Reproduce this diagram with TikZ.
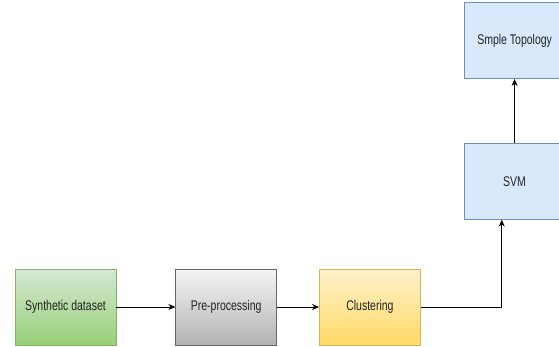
\documentclass[tikz,border=0pt]{standalone}
\usepackage{fontspec}
\setmainfont{Liberation Sans}[FakeStretch=0.75]
\usetikzlibrary{arrows.meta, positioning, calc}
\definecolor{greenline}{HTML}{82B366}
\definecolor{grayline}{HTML}{666666}
\definecolor{yellowline}{HTML}{D6B656}
\definecolor{blueline}{HTML}{6C8EBF}
\definecolor{bluefill}{HTML}{DAE8FC}
\definecolor{greentop}{HTML}{D5E8D4}
\definecolor{greenbot}{HTML}{97D077}
\definecolor{graytop}{HTML}{F5F5F5}
\definecolor{graybot}{HTML}{B3B3B3}
\definecolor{yellowtop}{HTML}{FFF2CC}
\definecolor{yellowbot}{HTML}{FFD966}
\definecolor{labeltext}{HTML}{222222}

\begin{document}
\begin{tikzpicture}[
    box/.style={rectangle, draw, minimum width=101pt, minimum height=76pt, align=center, line width=0.7pt, text=labeltext, font=\fontsize{14}{16}\selectfont},
    greenbox/.style={box, draw=greenline, top color=greentop, bottom color=greenbot},
    graybox/.style={box, draw=grayline, top color=graytop, bottom color=graybot},
    yellowbox/.style={box, draw=yellowline, top color=yellowtop, bottom color=yellowbot},
    bluebox/.style={box, draw=blueline, fill=bluefill},
    arrow/.style={-{Stealth[length=7pt,width=6pt]}, line width=0.8pt}
]
\clip (0,0) rectangle (559pt,-346pt);

% Pipeline
\node[greenbox] (synth) at (65.5pt,-307pt) {Synthetic dataset};
\node[graybox, right=59pt of synth] (prep) {Pre-processing};
\node[yellowbox, right=42pt of prep] (clust) {Clustering};

% Classifier
\node[bluebox, above right=49pt and 43pt of clust] (svm) {SVM};
\node[bluebox, above=64pt of svm] (topo) {Smple Topology};

\coordinate (knick) at ($(clust.east)+(81pt,0)$);

% Arrows
\draw[arrow] (synth) -- (prep);
\draw[arrow] (prep) -- (clust);
\draw[arrow] (clust.east) -- (knick) -- (knick |- svm.south);
\draw[arrow] (svm) -- (topo);

\end{tikzpicture}
\end{document}
